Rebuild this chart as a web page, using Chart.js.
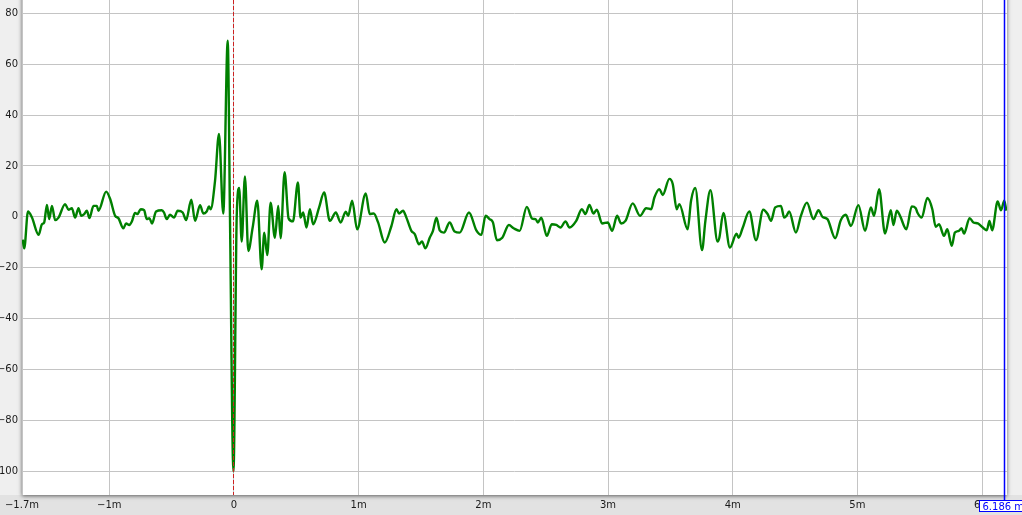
<!DOCTYPE html>
<html><head><meta charset="utf-8">
<script src="https://cdn.jsdelivr.net/npm/chart.js@4/dist/chart.umd.min.js"></script>
<style>html,body{margin:0;padding:0;background:#e4e4e4;overflow:hidden}#wrap{width:1022px;height:515px;position:relative}canvas{display:block}</style>
</head><body><div id="wrap"><canvas id="c" width="1022" height="515"></canvas></div>
<script>
// Impulse response: time (ms) and amplitude (%)
const timeMs = [
-1.694,-1.682,-1.652,-1.620,-1.567,-1.540,-1.522,-1.500,-1.482,-1.460,
-1.434,-1.407,-1.354,-1.327,-1.300,-1.274,-1.247,-1.225,-1.201,-1.180,
-1.159,-1.127,-1.100,-1.087,-1.025,-0.993,-0.953,-0.927,-0.887,-0.865,
-0.839,-0.819,-0.793,-0.775,-0.747,-0.721,-0.699,-0.678,-0.657,-0.625,
-0.579,-0.561,-0.539,-0.513,-0.481,-0.451,-0.411,-0.384,-0.342,-0.312,
-0.272,-0.246,-0.219,-0.200,-0.187,-0.152,-0.120,-0.086,-0.050,-0.032,
-0.004,0.022,0.042,0.062,0.088,0.115,0.150,0.187,0.222,0.243,
0.267,0.294,0.328,0.355,0.374,0.406,0.438,0.473,0.513,0.534,
0.555,0.582,0.609,0.635,0.683,0.723,0.769,0.817,0.855,0.897,
0.916,0.948,0.988,1.057,1.089,1.121,1.156,1.209,1.263,1.303,
1.324,1.356,1.383,1.423,1.450,1.484,1.508,1.535,1.570,1.596,
1.624,1.650,1.684,1.730,1.770,1.810,1.885,1.944,1.984,2.018,
2.050,2.077,2.109,2.152,2.205,2.243,2.291,2.349,2.392,2.419,
2.437,2.465,2.509,2.549,2.585,2.619,2.659,2.691,2.745,2.790,
2.819,2.851,2.883,2.910,2.953,2.998,3.033,3.073,3.105,3.140,
3.198,3.257,3.306,3.346,3.372,3.412,3.439,3.492,3.519,3.551,
3.572,3.639,3.666,3.700,3.754,3.781,3.821,3.879,3.893,3.925,
3.978,4.031,4.047,4.079,4.133,4.187,4.245,4.280,4.307,4.341,
4.387,4.413,4.432,4.453,4.507,4.547,4.595,4.648,4.688,4.720,
4.760,4.822,4.867,4.907,4.948,5.008,5.062,5.108,5.134,5.174,
5.222,5.268,5.289,5.316,5.342,5.393,5.436,5.468,5.481,5.516,
5.561,5.601,5.628,5.655,5.695,5.721,5.757,5.782,5.815,5.836,
5.855,5.900,5.931,5.966,6.006,6.038,6.059,6.081,6.125,6.152,
6.178,6.195
];
const amplitude = [
-9,-12.4,2.1,-0.3,-7.1,-2.9,-2.2,4.7,-0.9,4.3,
-1.3,-0.3,5.0,2.8,3.4,-0.3,3.4,0.4,1.1,2.4,
-0.5,4.3,4.3,2.4,9.9,7.0,0.4,-0.5,-4.5,-2.6,
-3.2,-1.8,1.5,1.1,3.0,2.6,-0.9,-0.5,-2.6,2.1,
2.6,1.7,-0.9,0.8,-0.3,2.4,1.7,-1.3,6.7,-1.6,
4.6,1.3,2.1,4.1,3.0,14,32.6,1.3,69.2,0,
-100,0,11.3,-9.7,15.9,-13.4,-4.2,6.3,-20.6,-6.2,
-15,5.6,-8.2,4.3,-8.4,17.5,-0.6,-1.8,13.5,-0.3,
1.7,-4.2,3.0,-2.9,3.7,9.6,-1.6,1.7,-2.2,2.0,
0.4,6.3,-4.9,9.2,1.1,1.3,-2.2,-10.1,-3.6,3.0,
1.3,2.4,-0.3,-5.5,-6.8,-10.8,-9.7,-12.4,-8.2,-5.5,
-0.3,-5.3,-6.2,-2.2,-5.8,-6.2,1.7,-5.3,-7.1,0.4,
-0.9,-2.2,-9.2,-8.2,-3.2,-4.5,-5.5,3.9,-0.7,-0.9,
-2.2,-0.3,-7.5,-2.9,-3.2,-4.2,-1.8,-4.2,-1.6,3.0,
1.1,4.7,1.3,2.8,-2.6,-2.2,-5.5,0.4,-2.6,-1.6,
5.3,0.4,3.4,3.0,7.6,10.9,8.6,14.9,12.9,3.0,
5.0,-4.9,6.3,11.3,-13.1,-1.6,10.5,-9.7,-8.2,1.5,
-12.1,-6.6,-8.2,-4.5,2.1,-9.2,2.8,1.1,-1.6,3.7,
4.3,-0.3,0.4,2.1,-6.2,0.4,5.6,-0.9,2.6,0,
-0.9,-8.4,-1.3,0.8,-3.6,4.6,-5.5,3.7,0.4,10.9,
-6.6,2.6,-3.2,2.4,0.4,-4.9,4.1,3.4,1.7,-0.3,
7.4,3.0,-3.9,-2.9,-7.5,-4.9,-11.4,-6.2,-5.5,-4.5,
-6.6,-0.5,-2.2,-2.6,-4.2,-5.3,-1.6,-5.3,6.0,2.6,
6.3,2.4
];
const xTickValues = [-1.7,-1,0,1,2,3,4,5,6];
const yTickValues = [80,60,40,20,0,-20,-40,-60,-80,-100];
const xRange = [-1.7, 6.2];
const yRange = [-109.3, 85.2];
const referenceTime = 0;
const cursorTime = 6.186;
const cursorLabel = '6.186 m';

const FONT = {family:'"DejaVu Sans", sans-serif', size:10};
const minus = v => (v < 0 ? '\u2212' : '') + Math.abs(v);

const framePlugin = {
  id:'frame',
  beforeDraw(chart){
    const {ctx, chartArea:a, width, height} = chart;
    ctx.save();
    ctx.fillStyle = '#e2e2e2'; ctx.fillRect(0,0,width,height);
    ctx.fillStyle = '#efefef';
    ctx.fillRect(0,0,a.left,a.bottom);
    ctx.fillRect(a.right,0,width-a.right,a.bottom);
    ctx.shadowColor = 'rgba(0,0,0,0.6)'; ctx.shadowBlur = 4; ctx.shadowOffsetY = 1;
    ctx.fillStyle = '#ffffff';
    ctx.fillRect(a.left,a.top-10,a.right-a.left,a.bottom-a.top+10);
    ctx.restore();
  },
  afterDatasetsDraw(chart){
    const {ctx, chartArea:a, scales:{x}} = chart;
    ctx.save();
    const x0 = Math.round(x.getPixelForValue(referenceTime)) - 0.5;
    ctx.strokeStyle = '#cc2222'; ctx.lineWidth = 1; ctx.setLineDash([4,2]);
    ctx.beginPath(); ctx.moveTo(x0,a.top); ctx.lineTo(x0,a.bottom); ctx.stroke();
    ctx.restore();
  },
  afterDraw(chart){
    const {ctx, chartArea:a, scales:{x}} = chart;
    ctx.save();
    const xc = Math.round(x.getPixelForValue(cursorTime)) - 0.5;
    ctx.strokeStyle = '#0000ff'; ctx.lineWidth = 1.5;
    ctx.beginPath(); ctx.moveTo(xc,a.top); ctx.lineTo(xc,a.bottom+5); ctx.stroke();
    ctx.font = '10px "DejaVu Sans", sans-serif';
    const w = ctx.measureText(cursorLabel).width + 10;
    const bx = Math.round(xc - 26) + 0.5, by = a.bottom + 5.5, bh = 11;
    ctx.fillStyle = '#ffffff'; ctx.fillRect(bx,by,w,bh);
    ctx.strokeStyle = '#0000ff'; ctx.lineWidth = 1; ctx.strokeRect(bx,by,w,bh);
    ctx.fillStyle = '#0000ff'; ctx.textBaseline = 'alphabetic';
    ctx.fillText(cursorLabel, bx + 3, by + 9);
    ctx.restore();
  }
};

new Chart(document.getElementById('c'), {
  type:'line',
  data:{datasets:[{
    data: timeMs.map((t,i)=>({x:t, y:amplitude[i]})),
    borderColor:'#008000', borderWidth:2.4, pointRadius:0,
    cubicInterpolationMode:'monotone', fill:false
  }]},
  options:{
    responsive:false, animation:false, devicePixelRatio:1,
    layout:{padding:{left:0,top:0,right:15,bottom:0}},
    plugins:{legend:{display:false}, tooltip:{enabled:false}},
    scales:{
      x:{type:'linear', min:xRange[0], max:xRange[1],
        afterBuildTicks(s){ s.ticks = xTickValues.map(v=>({value:v})); },
        afterFit(s){ s.height = 20; s.paddingLeft = 0; s.paddingRight = 0; },
        grid:{color:'#c4c4c4', lineWidth:1, drawTicks:false},
        border:{display:false},
        ticks:{font:FONT, color:'#1a1a1a', padding:4, maxRotation:0, autoSkip:false,
          callback:v => v === 0 ? '0' : minus(v) + 'm'}
      },
      y:{type:'linear', min:yRange[0], max:yRange[1],
        afterBuildTicks(s){ s.ticks = yTickValues.map(v=>({value:v})); },
        afterFit(s){ s.width = 22; s.paddingTop = 0; s.paddingBottom = 0; },
        grid:{color:'#c4c4c4', lineWidth:1, drawTicks:false},
        border:{display:false},
        ticks:{font:FONT, color:'#1a1a1a', padding:4, autoSkip:false, callback:v => minus(v)}
      }
    }
  },
  plugins:[framePlugin]
});
</script></body></html>
